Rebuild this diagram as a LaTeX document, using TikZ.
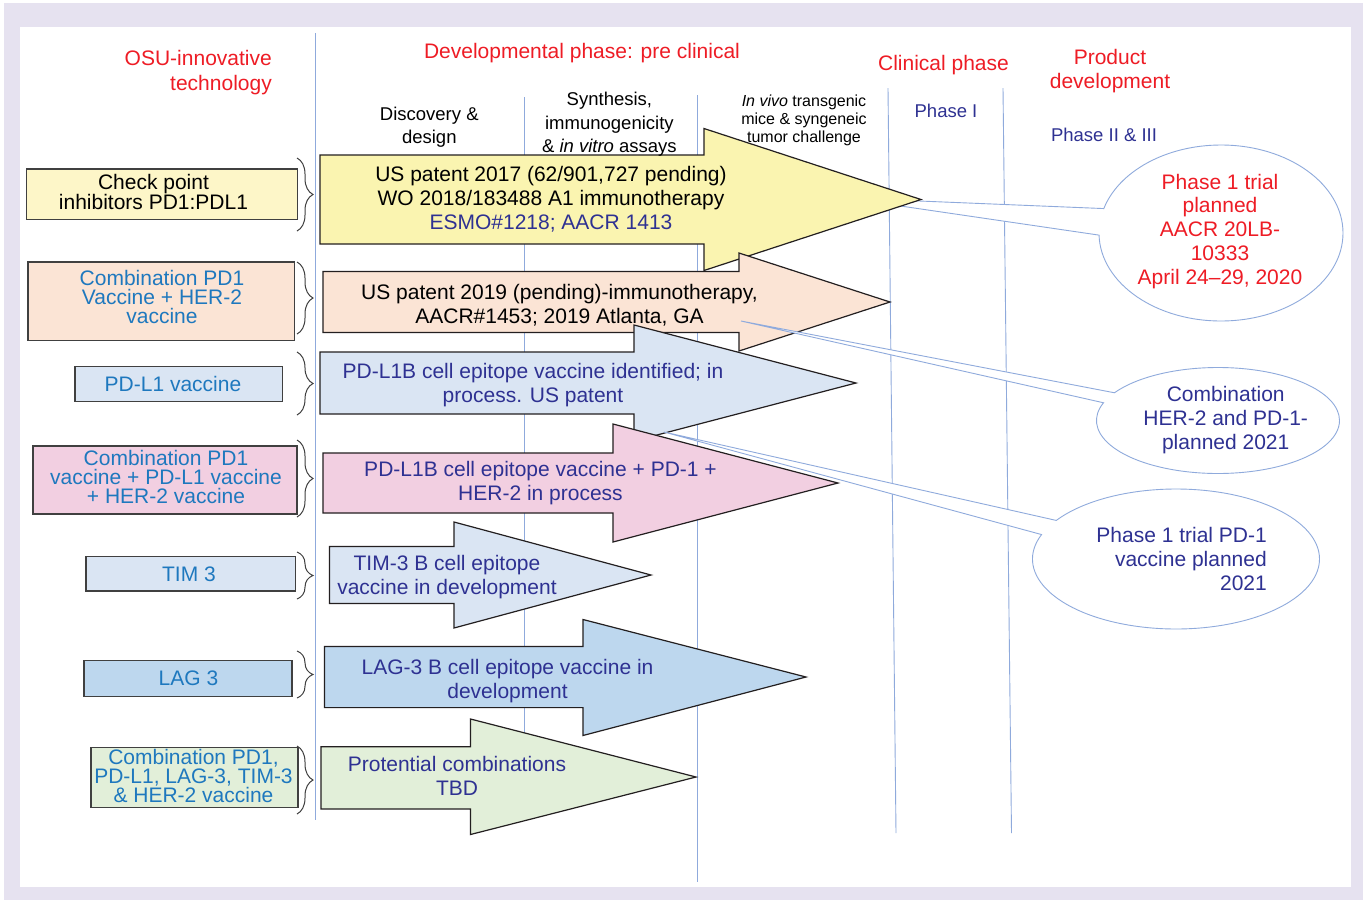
\documentclass[tikz,border=0pt]{standalone}
\usepackage{fontspec}
\setmainfont{Liberation Sans}
\usetikzlibrary{shapes.callouts,decorations.pathreplacing}

\definecolor{frame}{HTML}{E6E2F0}
\definecolor{gridblue}{HTML}{8FAADC}
\definecolor{osured}{HTML}{EE1C25}
\definecolor{navy}{HTML}{2E3192}
\definecolor{techblue}{HTML}{1E78BE}
\definecolor{boxline}{HTML}{404040}
\definecolor{outline}{HTML}{231F20}
\definecolor{byellow}{HTML}{FDF6C8}
\definecolor{ayellow}{HTML}{FAF4B0}
\definecolor{peach}{HTML}{FBE4D5}
\definecolor{lblue}{HTML}{DAE5F3}
\definecolor{pink}{HTML}{F2CFE1}
\definecolor{lagblue}{HTML}{BDD7EE}
\definecolor{lgreen}{HTML}{E2EFD9}

\begin{document}
\begin{tikzpicture}[x=1pt,y=-1pt,
    every node/.style={inner sep=0pt},
    head/.style={text=osured,font=\fontsize{21}{24.5}\selectfont,align=center},
    sub/.style={font=\fontsize{18.5}{23.5}\selectfont,align=center},
    phase/.style={text=navy,font=\fontsize{18.5}{23.5}\selectfont},
    tech/.style={draw=boxline,line width=1.5pt},
    techtext/.style={text=techblue,font=\fontsize{21}{19}\selectfont,align=center},
    bar/.style={draw=gridblue,line width=0.9pt},
    brc/.style={draw=boxline,line width=1pt,decorate,decoration={brace,amplitude=16pt}},
    fat/.style={draw=outline,line width=1.2pt},
    msg/.style={text=navy,font=\fontsize{21}{24}\selectfont,align=center},
    bubble/.style={ellipse callout,draw=gridblue,fill=white,line width=0.9pt}]

  \useasboundingbox (0,0) rectangle (1369,906);
  \fill[white] (0,0) rectangle (1369,906);
  \fill[frame] (4,3) rectangle (1363,900);
  \fill[white] (20,27) rectangle (1351,887);

  % phase columns
  \draw[bar] (315,33) -- (315,820);
  \draw[bar] (524,97) -- (524,800);
  \draw[bar] (697,95) -- (697,882);
  \draw[bar] (888,88) -- (896,833);
  \draw[bar] (1003,88) -- (1011.5,833);

  % first callout sits under the arrows
  \node[bubble,minimum width=244,minimum height=176,
    callout absolute pointer={(846,198)},callout pointer arc=17.5] (c1) at (1221,233) {};

  % progress arrows
  \draw[fat,fill=ayellow] (320,155) -- (704,155) -- (704,128.5) -- (921,199.5)
    -- (704,270.5) -- (704,244) -- (320,244) -- cycle;
  \node[msg,text=black] (m1) at (551,199.5) {US patent 2017 (62/901,727 pending)\\
    WO 2018/183488 A1 immunotherapy\\ \textcolor{navy}{ESMO\#1218; AACR 1413}};

  \draw[fat,fill=peach] (323,271.5) -- (739,271.5) -- (739,253) -- (890,302)
    -- (739,351) -- (739,332.5) -- (323,332.5) -- cycle;
  \node[msg,text=black] (m2) at (559.5,305) {US patent 2019 (pending)-immunotherapy,\\
    AACR\#1453; 2019 Atlanta, GA};

  \draw[fat,fill=lblue] (320,352) -- (634,352) -- (634,325) -- (856,383)
    -- (634,441) -- (634,414) -- (320,414) -- cycle;
  \node[msg] (m3) at (533,385.4) {PD-L1B cell epitope vaccine identified; in\\process. US patent};

  \draw[fat,fill=pink] (323,453) -- (613,453) -- (613,424) -- (838,483)
    -- (613,542) -- (613,513) -- (323,513) -- cycle;
  \node[msg] (m4) at (540.5,483) {PD-L1B cell epitope vaccine + PD-1 +\\HER-2 in process};

  \draw[fat,fill=lblue] (329.5,546.5) -- (454,546.5) -- (454,522) -- (651,575)
    -- (454,628) -- (454,603.5) -- (329.5,603.5) -- cycle;
  \node[msg] (m5) at (447,577.4) {TIM-3 B cell epitope\\vaccine in development};

  \draw[fat,fill=lagblue] (324.5,646.4) -- (583,646.4) -- (583,619.5) -- (806,677)
    -- (583,735.5) -- (583,707.6) -- (324.5,707.6) -- cycle;
  \node[msg] (m6) at (507.5,681.2) {LAG-3 B cell epitope vaccine in\\development};

  \draw[fat,fill=lgreen] (321,746.7) -- (470.5,746.7) -- (470.5,719) -- (696,777)
    -- (470.5,834.5) -- (470.5,809) -- (321,809) -- cycle;
  \node[msg] (m7) at (457,776) {Protential combinations\\TBD};

  % callouts
  \node[msg,text=osured,font=\fontsize{21}{23.8}\selectfont] (q1) at (1220,231.2)
    {Phase 1 trial\\planned\\AACR 20LB-\\10333\\April 24--29, 2020};
  \node[bubble,minimum width=243,minimum height=106,
    callout absolute pointer={(741,321)},callout pointer arc=12] (c2) at (1218,420.5) {};
  \node[msg] (q2) at (1225.7,420.2) {Combination\\HER-2 and PD-1-\\planned 2021};
  \node[bubble,minimum width=287,minimum height=140,
    callout absolute pointer={(664,432)},callout pointer arc=13] (c3) at (1176,559) {};
  \node[msg,anchor=east,align=right] (q3) at (1267,559) {Phase 1 trial PD-1\\vaccine planned\\2021};

  % technologies
  \node[tech,fill=byellow,minimum width=270.6,minimum height=50.3] (t1) at (162,194.2) {};
  \node[techtext,text=black] (t1txt) at (153.5,192) {Check point\\inhibitors PD1:PDL1};
  \node[tech,fill=peach,minimum width=266.7,minimum height=78.7] (t2) at (161.3,301.3) {};
  \node[techtext] (t2txt) at (162,297) {Combination PD1\\Vaccine + HER-2\\vaccine};
  \node[tech,fill=lblue,minimum width=207.4,minimum height=35] (t3) at (178.7,384.2) {};
  \node[techtext] (t3txt) at (173,383.5) {PD-L1 vaccine};
  \node[tech,fill=pink,minimum width=264,minimum height=68.3] (t4) at (165,479.9) {};
  \node[techtext] (t4txt) at (166,477) {Combination PD1\\vaccine + PD-L1 vaccine\\+ HER-2 vaccine};
  \node[tech,fill=lblue,minimum width=209.6,minimum height=34.3] (t5) at (190.8,573.8) {};
  \node[techtext] (t5txt) at (189,574.5) {TIM 3};
  \node[tech,fill=lagblue,minimum width=208,minimum height=36] (t6) at (188,678.7) {};
  \node[techtext] (t6txt) at (188.5,678.5) {LAG 3};
  \node[tech,fill=lgreen,minimum width=207,minimum height=60] (t7) at (194.5,777.7) {};
  \node[techtext] (t7txt) at (193.5,776) {Combination PD1,\\PD-L1, LAG-3, TIM-3\\\& HER-2 vaccine};

  \draw[brc] (297,158) -- (297,231);
  \draw[brc] (297,262) -- (297,334);
  \draw[brc] (297,352) -- (297,415);
  \draw[brc] (297,440) -- (297,517);
  \draw[brc] (297,552) -- (297,599);
  \draw[brc] (297,651) -- (297,698);
  \draw[brc] (297,746) -- (297,814);

  % headings
  \node[head,anchor=east,align=right] (osu) at (272,72.5) {OSU-innovative\\technology};
  \node[head] (dev) at (582,53) {Developmental phase: pre clinical};
  \node[head] (clin) at (943.5,65.5) {Clinical phase};
  \node[head] (prod) at (1110,71.2) {Product\\development};
  \node[sub] (disc) at (429.3,127) {Discovery \&\\design};
  \node[sub] (synth) at (609.4,124.5) {Synthesis,\\immunogenicity\\\& \textit{in vitro} assays};
  \node[sub,font=\fontsize{16}{18.3}\selectfont] (vivo) at (804,120.2)
    {\textit{In vivo} transgenic\\mice \& syngeneic\\tumor challenge};
  \node[phase] (ph1) at (946,110.5) {Phase I};
  \node[phase] (ph23) at (1104,135) {Phase II \& III};
\end{tikzpicture}
\end{document}
